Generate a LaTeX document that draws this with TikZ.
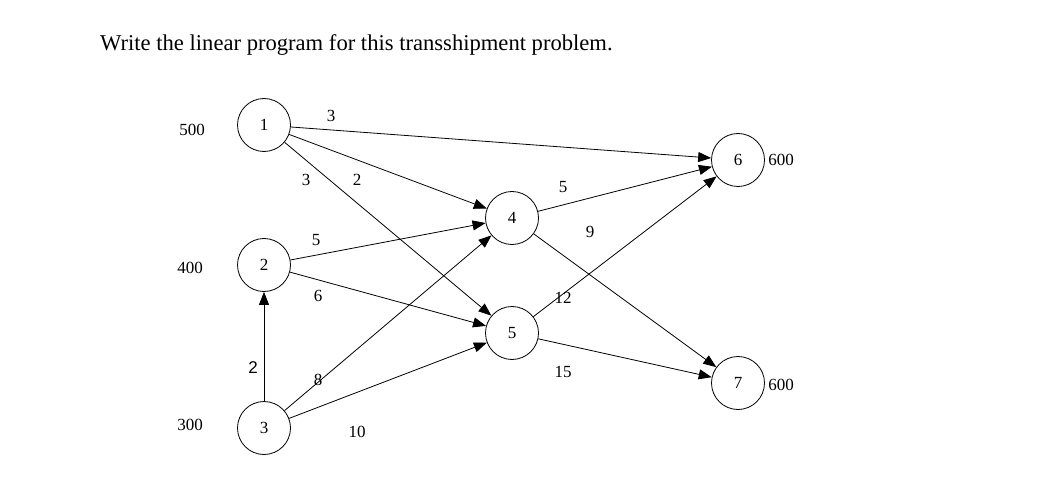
\documentclass[tikz,border=0pt]{standalone}
\usepackage{fontspec}
\setmainfont{Liberation Serif}
\newfontfamily\lsans{Liberation Sans}
\usetikzlibrary{arrows.meta}
\begin{document}
\begin{tikzpicture}[x=1pt,y=-1pt,
  nd/.style={circle,draw,line width=0.8pt,minimum size=53pt,inner sep=0pt,font=\fontsize{17}{19}\selectfont},
  lb/.style={font=\fontsize{17}{19}\selectfont,inner sep=0pt},
  ar/.style={-{Triangle[length=13pt,width=10pt]},line width=0.8pt},
  ln/.style={line width=0.8pt}]
\useasboundingbox (0,0) rectangle (1050,492);
\node[anchor=west,font=\fontsize{22.6}{25}\selectfont,inner sep=0pt] (t) at (100,45) {Write the linear program for this transshipment problem.};
\node[nd] (n1) at (264,125) {1};
\node[nd] (n2) at (264,265) {2};
\node[nd] (n3) at (264,428) {3};
\node[nd] (n4) at (512,218) {4};
\node[nd] (n5) at (512,333) {5};
\node[nd] (n6) at (738,160) {6};
\node[nd] (n7) at (738,383) {7};
\draw[ar] (n1) -- (n6);
\draw[ar] (n1) -- (n4);
\draw[ar] (n1) -- (n5);
\draw[ar] (n2) -- (n4);
\draw[ar] (n2) -- (n5);
\draw[ar] (n3) -- (n2);
\draw[ar] (n3) -- (n4);
\draw[ar] (n3) -- (n5);
\draw[ar] (n4) -- (n6);
\draw[ar] (n4) -- (n7);
\draw[ar] (n5) -- (n6);
\draw[ar] (n5) -- (n7);
\node[lb] (l16) at (331,116) {3};
\node[lb] (l15) at (306,180) {3};
\node[lb] (l14) at (357,180) {2};
\node[lb] (l24) at (316,240) {5};
\node[lb] (l25) at (318,296) {6};
\node[lb,font=\lsans\fontsize{17}{19}\selectfont] (l32) at (253,368) {2};
\node[lb] (l34) at (318,380) {8};
\node[lb] (l35) at (357,432) {10};
\node[lb] (l46) at (563,187) {5};
\node[lb] (l47) at (590,232) {9};
\node[lb] (l56) at (563,298) {12};
\node[lb] (l57) at (563,372) {15};
\node[lb] (s1) at (192,130) {500};
\node[lb] (s2) at (190,268) {400};
\node[lb] (s3) at (190,425) {300};
\node[lb] (d6) at (781,160) {600};
\node[lb] (d7) at (781,385) {600};
\end{tikzpicture}
\end{document}
